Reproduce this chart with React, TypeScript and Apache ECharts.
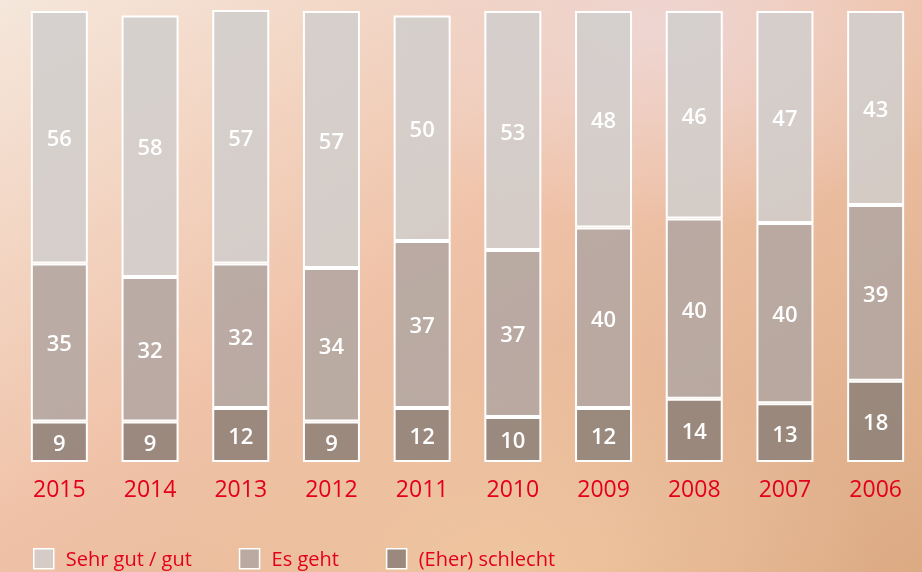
import React, { useEffect, useRef } from "react";
import * as echarts from "echarts";

const years = ["2015", "2014", "2013", "2012", "2011", "2010", "2009", "2008", "2007", "2006"];
const bad = [9, 9, 12, 9, 12, 10, 12, 14, 13, 18];
const okay = [35, 32, 32, 34, 37, 37, 40, 40, 40, 39];
const good = [56, 58, 57, 57, 50, 53, 48, 46, 47, 43];
const seriesNames = ["Sehr gut / gut", "Es geht", "(Eher) schlecht"];

const FONT = "'Open Sans', 'Noto Sans', sans-serif";
const RED = "#e3001b";

export default function App() {
  const ref = useRef<HTMLDivElement>(null);
  useEffect(() => {
    if (!ref.current) return;
    const chart = echarts.init(ref.current, undefined, { renderer: "svg" });
    const label = {
      show: true,
      position: "inside" as const,
      color: "#ffffff",
      fontSize: 22,
      fontWeight: 600,
      fontFamily: FONT,
    };
    const mk = (name: string, data: number[], color: string) => ({
      name,
      type: "bar" as const,
      stack: "s",
      data,
      barWidth: 57,
      label,
      itemStyle: { color, borderColor: "#ffffff", borderWidth: 2 },
    });
    chart.setOption({
      animation: false,
      graphic: [
        {
          type: "rect",
          z: -10,
          silent: true,
          shape: { x: 0, y: 0, width: 922, height: 572 },
          style: {
            fill: {
              type: "linear",
              x: 0,
              y: 0,
              x2: 1,
              y2: 1,
              colorStops: [
                { offset: 0, color: "#f5e7dc" },
                { offset: 0.45, color: "#f0c3a9" },
                { offset: 1, color: "#dcab84" },
              ],
            },
          },
        },
        {
          type: "rect",
          z: -9,
          silent: true,
          shape: { x: 0, y: 0, width: 922, height: 572 },
          style: {
            fill: {
              type: "radial",
              x: 0.72,
              y: 0.05,
              r: 0.35,
              colorStops: [
                { offset: 0, color: "rgba(238,214,212,0.95)" },
                { offset: 1, color: "rgba(238,214,212,0)" },
              ],
            },
          },
        },
        {
          type: "rect",
          z: -9,
          silent: true,
          shape: { x: 0, y: 0, width: 922, height: 572 },
          style: {
            fill: {
              type: "radial",
              x: 0.55,
              y: 1,
              r: 0.4,
              colorStops: [
                { offset: 0, color: "rgba(244,205,165,0.7)" },
                { offset: 1, color: "rgba(244,205,165,0)" },
              ],
            },
          },
        },
      ],
      grid: { left: 14, right: 1, top: 11, bottom: 110, containLabel: false },
      legend: {
        left: 33,
        top: 548,
        padding: 0,
        itemWidth: 20,
        itemHeight: 20,
        itemGap: 47,
        icon: "rect",
        data: seriesNames,
        itemStyle: { borderColor: "#ffffff", borderWidth: 1.5 },
        textStyle: { color: RED, fontSize: 20, fontFamily: FONT, padding: [0, 0, 0, 7] },
      },
      xAxis: {
        type: "category",
        data: years,
        axisLine: { show: false },
        axisTick: { show: false },
        axisLabel: { color: RED, fontSize: 23, fontFamily: FONT, margin: 14 },
      },
      yAxis: {
        type: "value",
        min: 0,
        max: 100,
        show: false,
        splitLine: { show: false },
      },
      series: [
        mk(seriesNames[2], bad, "rgba(145,131,122,0.9)"),
        mk(seriesNames[1], okay, "rgba(178,166,162,0.88)"),
        mk(seriesNames[0], good, "rgba(208,206,204,0.85)"),
      ],
    });
    return () => chart.dispose();
  }, []);
  return (
    <div
      ref={ref}
      style={{ position: "fixed", left: 0, top: 0, width: 922, height: 572 }}
    />
  );
}
